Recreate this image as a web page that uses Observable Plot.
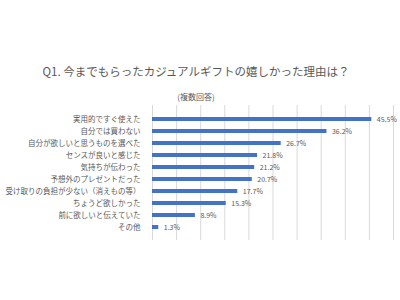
<!DOCTYPE html>
<html>
<head>
<meta charset="utf-8">
<script src="https://cdn.jsdelivr.net/npm/d3@7"></script>
<script src="https://cdn.jsdelivr.net/npm/@observablehq/plot@0.6"></script>
<style>
  html, body { margin: 0; padding: 0; background: #fff; }
  #wrap { position: relative; width: 400px; height: 300px; font-family: 'Noto Sans CJK JP', sans-serif; color: #595959; }
  #title { position: absolute; left: 0; width: 392px; top: 63px; height: 16px; line-height: 16px; text-align: center; font-size: 11.5px; }
  #subtitle { position: absolute; left: 0; width: 392px; top: 91px; height: 12px; line-height: 12px; text-align: center; font-size: 8px; }
  #chart { position: absolute; left: 0; top: 0; }
</style>
</head>
<body>
<div id="wrap">
  <div id="chart"></div>
  <div id="title">Q1. 今までもらったカジュアルギフトの嬉しかった理由は？</div>
  <div id="subtitle">(複数回答)</div>
</div>
<script>
const categories = [
  "実用的ですぐ使えた",
  "自分では買わない",
  "自分が欲しいと思うものを選べた",
  "センスが良いと感じた",
  "気持ちが伝わった",
  "予想外のプレゼントだった",
  "受け取りの負担が少ない（消えもの等）",
  "ちょうど欲しかった",
  "前に欲しいと伝えていた",
  "その他"
];
const values = [45.5, 36.2, 26.7, 21.8, 21.2, 20.7, 17.7, 15.3, 8.9, 1.3];
const gridTicks = [0, 5, 10, 15, 20, 25, 30, 35, 40, 45, 50];

const data = categories.map((c, i) => ({category: c, value: values[i]}));

const chart = Plot.plot({
  width: 400,
  height: 300,
  marginTop: 105,
  marginBottom: 60,
  marginLeft: 152,
  marginRight: 7,
  style: {fontFamily: "'Noto Sans CJK JP', sans-serif", background: "transparent"},
  x: {domain: [0, 50], axis: null},
  y: {domain: categories, padding: 0.7, axis: null},
  marks: [
    Plot.gridX(gridTicks, {stroke: "#d9d9d9", strokeOpacity: 1, strokeWidth: 1}),
    Plot.barX(data, {x: "value", y: "category", fill: "#4472C4"}),
    Plot.text(data, {x: "value", y: "category", text: d => d.value.toFixed(1) + "%", dx: 5, textAnchor: "start", fill: "#595959", fontSize: 7}),
    Plot.axisY({tickSize: 0, tickPadding: 12, fontSize: 7.5, fill: "#595959", label: null})
  ]
});
document.getElementById("chart").appendChild(chart);
</script>
</body>
</html>
